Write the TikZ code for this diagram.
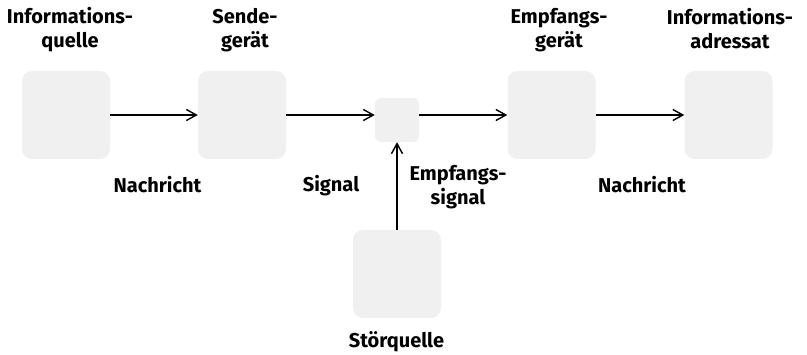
\documentclass[tikz,border=0pt]{standalone}
\usepackage{fontspec}
\setmainfont{Fira Sans}
\usetikzlibrary{arrows.meta}
\definecolor{boxgray}{HTML}{F0F0F0}
\tikzset{
  blockbox/.style={fill=boxgray, draw=none, rounded corners=10pt, minimum width=88pt, minimum height=88pt, inner sep=0pt},
  smallbox/.style={fill=boxgray, draw=none, rounded corners=6pt, minimum width=44pt, minimum height=44pt, inner sep=0pt},
  lbl/.style={font=\bfseries\fontsize{20}{24}\selectfont, align=center, inner sep=0pt},
  conn/.style={line width=1.4pt, -{Straight Barb[length=10pt, width=11pt, line width=1.4pt]}}
}
\begin{document}
\begin{tikzpicture}[x=1pt, y=-1pt]
\useasboundingbox (0,0) rectangle (807,355);
\node[blockbox] (quelle) at (66,115) {};
\node[blockbox] (sender) at (242,115) {};
\node[smallbox] (kanal) at (397,120) {};
\node[blockbox] (empf) at (551.5,115) {};
\node[blockbox] (adr) at (728.5,115) {};
\node[blockbox] (stoer) at (397,274) {};

\node[lbl] (tq) at (70,30) {Informations-\\quelle};
\node[lbl] (ts) at (245,30) {Sende-\\gerät};
\node[lbl] (te) at (559,30) {Empfangs-\\gerät};
\node[lbl] (ta) at (730,28.5) {Informations-\\adressat};
\node[lbl, anchor=base] (n1) at (157.5,193) {Nachricht};
\node[lbl, anchor=base] (sig) at (331,192) {Signal};
\node[lbl] (es) at (458,187) {Empfangs-\\signal};
\node[lbl, anchor=base] (n2) at (642,193) {Nachricht};
\node[lbl, anchor=base] (ts2) at (396.5,348) {Störquelle};

\draw[conn] (quelle.east) -- (sender.west);
\draw[conn] (sender.east) -- (kanal.west |- sender.east);
\draw[conn] (kanal.east |- empf.west) -- (empf.west);
\draw[conn] (empf.east) -- (adr.west);
\draw[conn] (stoer.north) -- (kanal.south);
\end{tikzpicture}
\end{document}
